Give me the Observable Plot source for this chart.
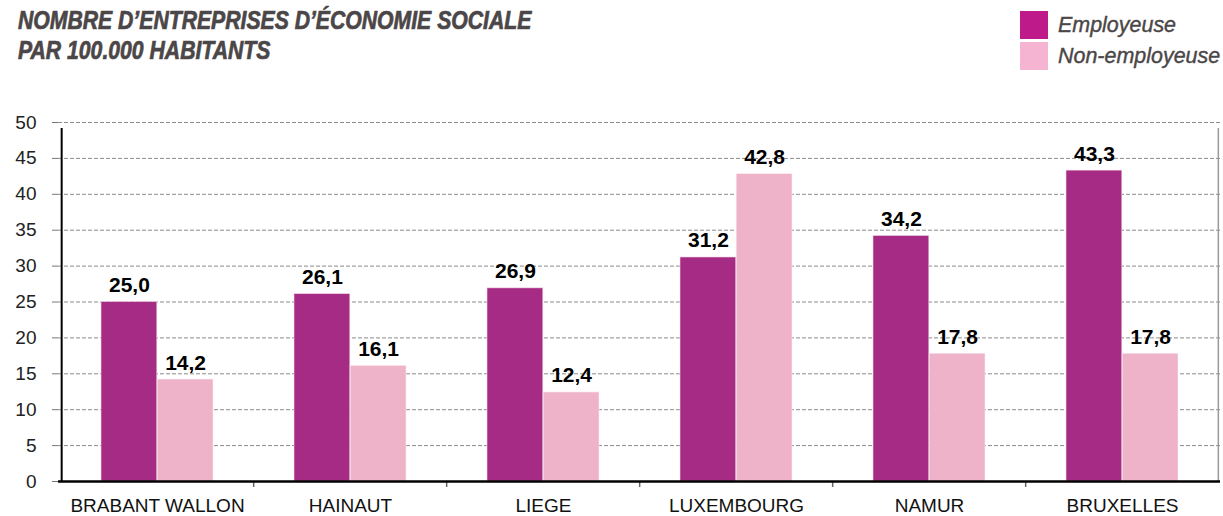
<!DOCTYPE html>
<html>
<head>
<meta charset="utf-8">
<script src="https://cdn.jsdelivr.net/npm/d3@7"></script>
<script src="https://cdn.jsdelivr.net/npm/@observablehq/plot@0.6"></script>
<style>
  html, body { margin: 0; padding: 0; background: #fff; }
  body { width: 1223px; height: 516px; overflow: hidden; font-family: "Liberation Sans", Arial, sans-serif; }
  #header { position: relative; height: 100px; }
  #title { position: absolute; left: 18px; top: 5px; font-family: "Liberation Sans", Arial, sans-serif; font-style: italic; font-weight: bold; font-size: 26px; line-height: 30px; color: #4b4647; white-space: nowrap; transform: scaleX(0.815); transform-origin: 0 0; -webkit-text-stroke: 0.7px #4b4647; }
  .leg { position: absolute; left: 1020px; display: flex; align-items: center; white-space: nowrap; }
  .sw { width: 28px; height: 28px; margin-right: 10px; }
  .lt { font-family: "Liberation Sans", Arial, sans-serif; font-style: italic; font-size: 22px; color: #4b4647; white-space: nowrap; transform: scaleX(0.975); transform-origin: 0 50%; -webkit-text-stroke: 0.4px #4b4647; }
</style>
</head>
<body>
<div id="header">
  <div id="title">NOMBRE D’ENTREPRISES D’ÉCONOMIE SOCIALE<br>PAR 100.000 HABITANTS</div>
  <div id="legend"></div>
</div>
<div id="chart"></div>
<script>
const regions = ["BRABANT WALLON", "HAINAUT", "LIEGE", "LUXEMBOURG", "NAMUR", "BRUXELLES"];
const employeuse = [25.0, 26.1, 26.9, 31.2, 34.2, 43.3];
const nonEmployeuse = [14.2, 16.1, 12.4, 42.8, 17.8, 17.8];
const seriesNames = ["Employeuse", "Non-employeuse"];
const barColors = ["#a62b84", "#efb3c9"];
const legendColors = ["#be1a8a", "#f5b4d2"];
const yTicks = [0, 5, 10, 15, 20, 25, 30, 35, 40, 45, 50];
const gridTicks = [5, 10, 15, 20, 25, 30, 35, 40, 45, 50];

const legend = document.getElementById("legend");
seriesNames.forEach((name, i) => {
  const row = document.createElement("div");
  row.className = "leg";
  row.style.top = (11 + i * 31) + "px";
  row.innerHTML = `<div class="sw" style="background:${legendColors[i]}"></div><div class="lt">${name}</div>`;
  legend.appendChild(row);
});

const dataE = regions.map((r, i) => ({region: r, value: employeuse[i]}));
const dataN = regions.map((r, i) => ({region: r, value: nonEmployeuse[i]}));
const fmt = v => d3.format(".1f")(v).replace(".", ",");

const W = 1223, H = 416, mL = 58, mR = 3, mT = 22, mB = 35;
const padIn = 0.42;
const step = (W - mL - mR) / regions.length;
const bw = step * (1 - padIn);

const chart = Plot.plot({
  width: W, height: H,
  marginLeft: mL, marginRight: mR, marginTop: mT, marginBottom: mB,
  style: {fontFamily: "'Liberation Sans', Arial, sans-serif", background: "#fff", color: "#111", overflow: "visible"},
  x: {domain: regions, paddingInner: padIn, paddingOuter: padIn / 2, label: null},
  y: {domain: [0, 50], label: null},
  marks: [
    Plot.ruleY(gridTicks, {stroke: "#8a8a8a", strokeDasharray: "4,2", strokeWidth: 1}),
    Plot.barY(dataE, {x: "region", y: "value", fill: barColors[0], stroke: "#f4dce9", strokeWidth: 0.6, insetRight: bw / 2}),
    Plot.barY(dataN, {x: "region", y: "value", fill: barColors[1], stroke: "#fbeaf1", strokeWidth: 0.6, insetLeft: bw / 2}),
    Plot.text(dataE, {x: "region", y: "value", text: d => fmt(d.value), dx: -bw / 4, dy: -10, lineAnchor: "bottom", fontSize: 21, fontWeight: "bold", fill: "#000"}),
    Plot.text(dataN, {x: "region", y: "value", text: d => fmt(d.value), dx: bw / 4, dy: -10, lineAnchor: "bottom", fontSize: 21, fontWeight: "bold", fill: "#000"}),
    // category boundary ticks below the axis
    Plot.ruleX(regions.slice(1), {x: d => d, y1: 0, y2: 0, dx: -step / 2, insetBottom: -6, stroke: "#666", strokeWidth: 1.5}),
    // right edge line
    Plot.ruleX([regions[regions.length - 1]], {x: d => d, y1: 0, y2: 50, dx: step / 2 - 1, insetBottom: -6, stroke: "#9a9a9a", strokeWidth: 1.5}),
    // left axis line
    Plot.ruleX([regions[0]], {x: d => d, y1: 0, y2: 50, dx: -step / 2 + 1, insetBottom: -6, stroke: "#000", strokeWidth: 2}),
    Plot.ruleY([0], {stroke: "#000", strokeWidth: 2.5}),
    Plot.axisY({ticks: yTicks, tickSize: 6, tickPadding: 16, fontSize: 19, stroke: "#777", fill: "#222", label: null}),
    Plot.axisX({tickSize: 0, tickPadding: 17, fontSize: 19, fill: "#111", label: null})
  ]
});
document.getElementById("chart").appendChild(chart);
</script>
</body>
</html>
